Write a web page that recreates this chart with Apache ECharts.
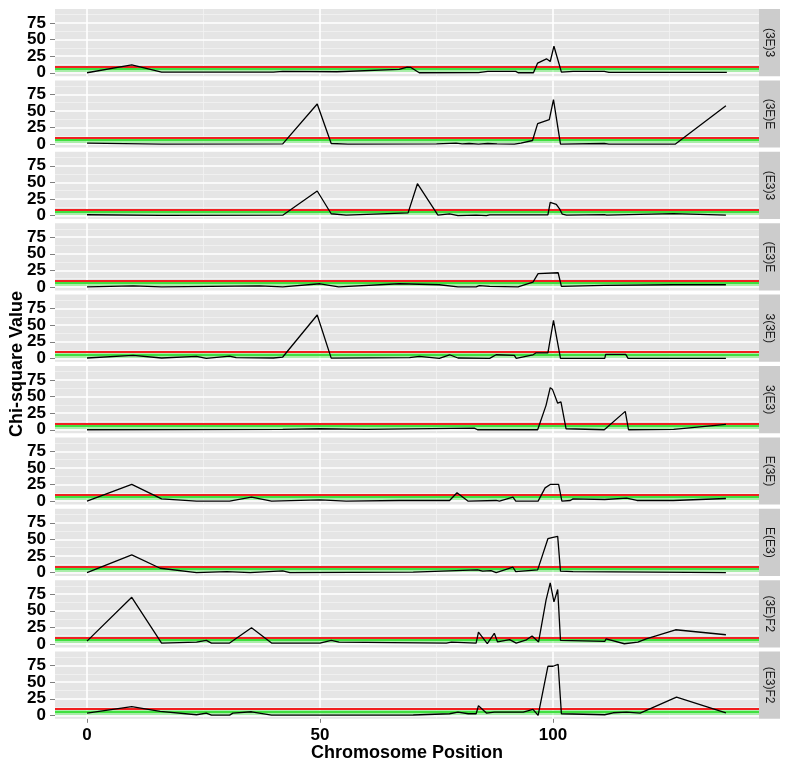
<!DOCTYPE html>
<html><head><meta charset="utf-8">
<script src="https://cdn.jsdelivr.net/npm/echarts@6/dist/echarts.min.js"></script>
<style>html,body{margin:0;padding:0;background:#fff}#c{width:787px;height:768px}</style>
</head><body><div id="c"></div>
<script>
// ---------- data ----------
const panelNames = ['(3E)3','(3E)E','(E3)3','(E3)E','3(3E)','3(E3)','E(3E)','E(E3)','(3E)F2','(E3)F2'];

const pos_3E3 = [0, 9.6, 16, 40, 42, 53.6, 67, 68.7, 69.5, 71.3, 84, 86, 92, 92.5, 95.8, 96.7, 98.6, 99.4, 100.2, 101.8, 104.3, 111, 112, 137.3];
const chi_3E3 = [0, 12, 1, 1, 2, 1.5, 5, 8.5, 8, 0, 0.3, 2, 2, 0, 0, 14.6, 21, 17, 40, 1, 2.2, 2, 0.5, 0.5];

const pos_3EE = [0, 16, 42, 49.4, 52.4, 56, 75, 79.2, 80.5, 82, 84, 86, 88, 91.7, 93.1, 95.6, 96.7, 99.2, 100.1, 101.6, 111, 112, 126.2, 137.1];
const chi_3EE = [1.5, 0, 0.5, 60.5, 1, 0, 0.5, 1.5, 0.3, 1, 0, 1, 0.3, 0, 1.5, 5.5, 31, 37, 67, 0, 1, 0, 0, 58];

const pos_E33 = [0, 16, 42, 49.4, 52.4, 55.6, 68.9, 70.9, 75.3, 77.8, 79.6, 83.5, 85.7, 86.4, 98.9, 99.4, 100.7, 101.4, 102, 102.9, 111, 111.5, 125.8, 137.1];
const chi_E33 = [1.2, 0.3, 0.5, 37, 2.7, 0.5, 4, 48, 0.5, 2.5, 0, 0.5, 0, 1, 1, 20, 17, 10, 2, 0.5, 1.5, 0.5, 3, 0.5];

const pos_E3E = [0, 9.9, 16, 37, 42, 50, 54, 67, 75.6, 79.6, 83.5, 84.2, 86.4, 92.5, 95.7, 96.8, 101.1, 101.8, 111, 125.8, 137.1];
const chi_E3E = [0, 1.5, 0, 1.5, 0, 4.8, 0, 4.8, 3.3, 0, 0, 2, 1, 0, 7.3, 20, 21.4, 0.8, 2.3, 3.3, 3.3];

const pos_33E = [0, 9.9, 16, 23.5, 25.6, 30.6, 32, 40, 42, 49.4, 52.4, 69.2, 71.3, 75.6, 77.8, 79.6, 86.4, 87.8, 91.7, 92.1, 95.7, 96.4, 98.9, 100.1, 101.6, 111.1, 111.3, 115.6, 116.1, 137.1];
const chi_33E = [0.5, 4.4, 0.5, 2.9, 0, 3.4, 1, 0.5, 2, 65.4, 0.4, 1, 3, 0, 5.4, 0.5, 0, 5.4, 4.4, 0, 5.4, 8.4, 8.4, 57.3, 0, 0, 6, 6, 0, 0];

const pos_3E3b = [0, 42, 50, 60, 83.1, 83.8, 96.7, 98.5, 99.4, 99.9, 101, 101.7, 102.8, 111, 115.5, 116.2, 125.9, 137.1];
const chi_3E3b = [0, 0.5, 1.5, 0.5, 2.5, 0, 0, 36.8, 63.5, 60.5, 40, 42, 1.5, 0, 27.7, 0, 0.5, 8];

const pos_E3Ea = [0, 9.6, 16, 23.5, 30.6, 35.3, 39.6, 50, 55.6, 67, 77.8, 79.4, 81.8, 87.8, 88.5, 91.4, 92, 96.8, 98.3, 99.4, 101.2, 101.9, 103.7, 104.3, 111.1, 115.8, 118, 125.8, 137.1];
const chi_E3Ea = [0, 25.2, 3.5, 0, 0, 6, 0, 2, 0, 1, 1, 12.6, 0, 1, 0, 6, 0, 0, 20, 25.2, 25.2, 0, 1, 3.5, 2.5, 4.5, 1, 1, 4];

const pos_EE3 = [0, 9.6, 15.7, 23.5, 30, 35, 42, 43.5, 70, 83.8, 84.9, 86.7, 87.8, 91.4, 92, 96.7, 98.9, 100, 101, 101.6, 104.3, 137.1];
const chi_EE3 = [0, 26.7, 6.5, 0, 1.5, 0, 2.5, 0, 0.5, 4, 2, 3, 0, 8, 1.5, 4, 51, 53, 54.5, 2, 1.5, 0];

const pos_3EF2 = [0, 9.6, 16, 23.5, 25.6, 26.7, 30.6, 35.3, 39.6, 50, 52.4, 54.1, 77.1, 78.2, 83.5, 84, 85.9, 87.4, 88.1, 90.7, 92.1, 94.3, 95.5, 96.9, 98.5, 99.4, 100.2, 101, 101.6, 111.1, 111.4, 115.3, 118.2, 120, 126.3, 137.1];
const chi_3EF2 = [4.3, 70.3, 1.3, 2.8, 5.3, 1.3, 1.3, 24.5, 1.3, 1.3, 5.3, 2.8, 1.3, 2.8, 1.3, 17.9, 0.5, 16, 3, 6.5, 1.3, 6.3, 12, 3, 66, 92, 63.5, 82, 5.5, 3.8, 7.8, 0.3, 2.8, 7.8, 21.4, 13.9];

const pos_E3F2 = [0, 9.6, 15.7, 23.5, 25.6, 26.7, 30.6, 31.3, 35.3, 39.6, 70, 77.8, 79.6, 81.8, 83.5, 84, 85.7, 87.4, 93.6, 95.7, 96.8, 98.9, 100, 101.1, 101.8, 111.1, 112.9, 115.8, 116.2, 118.7, 126.5, 137.1];
const chi_E3F2 = [3.4, 13, 5.9, 0.9, 3.4, 0.4, 0.4, 3.4, 5.4, 0.4, 0.5, 2.4, 4.9, 2.4, 2.4, 14.4, 3.4, 4.9, 4.9, 8.9, 0, 74, 74, 77, 2.4, 0.9, 3.9, 4.9, 2.4, 3.4, 27.6, 3.9];

const positions = [pos_3E3, pos_3EE, pos_E33, pos_E3E, pos_33E, pos_3E3b, pos_E3Ea, pos_EE3, pos_3EF2, pos_E3F2];
const chiValues = [chi_3E3, chi_3EE, chi_E33, chi_E3E, chi_33E, chi_3E3b, chi_E3Ea, chi_EE3, chi_3EF2, chi_E3F2];

const xTicks = [0, 50, 100];
const xMinorTicks = [25, 75, 125];
const yTicks = [0, 25, 50, 75];
const yMinorTicks = [12.5, 37.5, 62.5, 87.5];
const redThreshold = 9.21;
const greenThreshold = 5.99;

// ---------- layout ----------
const LEFT = 55, PLOT_W = 704, TOP0 = 9, PITCH = 71.4, H = 67.2, STRIP_W = 21;
const X_MIN = -6.87, X_MAX = 144.2, Y_MIN = -5.2, Y_MAX = 96.1;
const FONT = 'Liberation Sans, Arial, sans-serif';
const TICK_STYLE = {color: '#7f7f7f', width: 1};
const LABEL_STYLE = {fontSize: 17, fontWeight: 'bold', color: '#000', fontFamily: FONT,
  hideOverlap: false, showMinLabel: true, showMaxLabel: true};

const grids = [], xAxes = [], yAxes = [], series = [], graphics = [];
panelNames.forEach((name, i) => {
  const top = TOP0 + i * PITCH;
  const last = i === panelNames.length - 1;
  grids.push({left: LEFT, width: PLOT_W, top: top, height: H, show: true,
    backgroundColor: '#E5E5E5', borderWidth: 0, containLabel: false});
  // x axes: the bottom panel gets one axis per labelled tick
  const xIdx = xAxes.length;
  const xVals = last ? xTicks : [null];
  xVals.forEach(v => {
    xAxes.push({type: 'value', gridIndex: i, position: 'bottom', min: X_MIN, max: X_MAX,
      axisLine: {show: false, onZero: false}, splitLine: {show: false},
      axisTick: {show: v !== null, customValues: v === null ? [] : [v], length: 4, lineStyle: TICK_STYLE},
      axisLabel: Object.assign({show: v !== null, customValues: v === null ? [] : [v], margin: 8}, LABEL_STYLE)});
  });
  // y axes: one axis per labelled tick (shared scale), data drawn on the first
  const yIdx = yAxes.length;
  yTicks.forEach(v => {
    yAxes.push({type: 'value', gridIndex: i, position: 'left', offset: 0, min: Y_MIN, max: Y_MAX,
      axisLine: {show: false, onZero: false}, splitLine: {show: false},
      axisTick: {show: true, customValues: [v], length: 5, lineStyle: TICK_STYLE},
      axisLabel: Object.assign({customValues: [v], margin: 9}, LABEL_STYLE)});
  });
  const gl = [];
  yMinorTicks.forEach(v => gl.push({yAxis: v, lineStyle: {color: '#F2F2F2', width: 0.8, type: 'solid'}}));
  xMinorTicks.forEach(v => gl.push({xAxis: v, lineStyle: {color: '#F2F2F2', width: 0.8, type: 'solid'}}));
  yTicks.forEach(v => gl.push({yAxis: v, lineStyle: {color: '#FFFFFF', width: 1.6, type: 'solid'}}));
  xTicks.forEach(v => gl.push({xAxis: v, lineStyle: {color: '#FFFFFF', width: 1.6, type: 'solid'}}));
  series.push({type: 'line', xAxisIndex: xIdx, yAxisIndex: yIdx, data: [], silent: true, z: 1,
    markLine: {silent: true, z: 1, symbol: 'none', animation: false, label: {show: false}, data: gl}});
  series.push({type: 'line', xAxisIndex: xIdx, yAxisIndex: yIdx, data: [], silent: true, z: 2,
    markLine: {silent: true, z: 2, symbol: 'none', animation: false, label: {show: false}, data: [
      {yAxis: greenThreshold, lineStyle: {color: 'rgba(110,245,110,0.5)', width: 6, type: 'solid'}},
      {yAxis: greenThreshold, lineStyle: {color: '#3fe03f', width: 2, type: 'solid'}},
      {yAxis: redThreshold, lineStyle: {color: '#f02020', width: 1.8, type: 'solid'}}
    ]}});
  series.push({type: 'line', name: name, xAxisIndex: xIdx, yAxisIndex: yIdx, z: 6,
    data: positions[i].map((x, j) => [x, chiValues[i][j]]),
    symbol: 'none', showSymbol: false, sampling: null,
    lineStyle: {color: '#000', width: 1.3, type: 'solid'}});
  graphics.push({type: 'rect', shape: {x: LEFT + PLOT_W, y: top, width: STRIP_W, height: H},
    style: {fill: '#CCCCCC'}, silent: true});
  graphics.push({type: 'text', x: LEFT + PLOT_W + STRIP_W / 2, y: top + H / 2, rotation: -Math.PI / 2,
    style: {text: name, fontSize: 12, fill: '#1a1a1a', align: 'center', verticalAlign: 'middle', fontFamily: FONT},
    silent: true});
});
graphics.push({type: 'text', x: LEFT + PLOT_W / 2, y: 753,
  style: {text: 'Chromosome Position', fontSize: 18, fontWeight: 'bold', fill: '#000',
    align: 'center', verticalAlign: 'middle', fontFamily: FONT}});
graphics.push({type: 'text', x: 17, y: TOP0 + (9 * PITCH + H) / 2, rotation: Math.PI / 2,
  style: {text: 'Chi-square Value', fontSize: 18, fontWeight: 'bold', fill: '#000',
    align: 'center', verticalAlign: 'middle', fontFamily: FONT}});

const chart = echarts.init(document.getElementById('c'), null, {renderer: 'canvas'});
chart.setOption({animation: false, backgroundColor: '#fff', grid: grids, xAxis: xAxes, yAxis: yAxes,
  series: series, graphic: graphics});
</script></body></html>
